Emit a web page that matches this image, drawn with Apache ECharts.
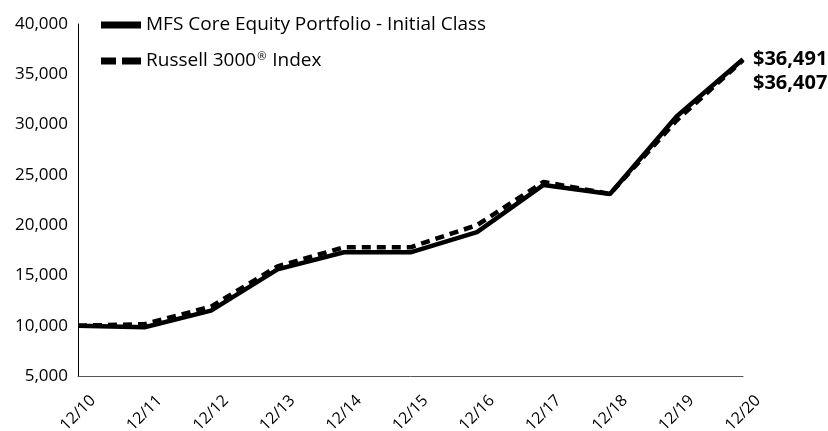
<!DOCTYPE html>
<html>
<head>
<meta charset="utf-8">
<script src="https://cdn.jsdelivr.net/npm/echarts@6/dist/echarts.min.js"></script>
<style>
html,body{margin:0;padding:0;background:#fff;}
#main{width:828px;height:431px;}
</style>
</head>
<body>
<div id="main"></div>
<script>
var years = ['12/10','12/11','12/12','12/13','12/14','12/15','12/16','12/17','12/18','12/19','12/20'];
var mfsValues = [10000, 9850, 11500, 15600, 17300, 17300, 19300, 24000, 23100, 30800, 36491];
var russellValues = [10000, 10150, 11900, 15900, 17800, 17800, 20000, 24300, 23100, 30400, 36407];
var seriesNames = ['MFS Core Equity Portfolio - Initial Class', 'Russell 3000® Index'];

var fontName = 'Open Sans';

function money(v){
    return '$' + v.toLocaleString('en-US');
}

var chart = echarts.init(document.getElementById('main'));
var option = {
    animation: false,
    backgroundColor: '#fff',
    textStyle: {fontFamily: fontName, color: '#000'},
    grid: {left: 78, right: 85, top: 24, bottom: 55, outerBoundsMode: 'none'},
    legend: {
        left: 96,
        top: 10,
        orient: 'vertical',
        itemGap: 16,
        itemWidth: 40,
        itemHeight: 7,
        formatter: function(name){
            return name.replace('®', '{sup|®}');
        },
        textStyle: {
            fontFamily: fontName, fontSize: 19, lineHeight: 20, color: '#000',
            rich: {
                sup: {fontSize: 11, verticalAlign: 'top', lineHeight: 20, padding: [0, 1, 6, 1], fontFamily: fontName, color: '#000'}
            }
        },
        data: [
            {name: seriesNames[0], icon: 'rect'},
            {name: seriesNames[1], icon: 'path://M0,0h15v7h-15z M21,0h19v7h-19z'}
        ]
    },
    xAxis: {
        type: 'category',
        data: years,
        boundaryGap: false,
        axisLine: {show: true, lineStyle: {color: '#555', width: 1}},
        axisTick: {show: false},
        axisLabel: {
            rotate: 45, fontSize: 16, color: '#000', margin: 37, fontFamily: fontName,
            align: 'center', verticalAlign: 'middle'
        }
    },
    yAxis: {
        type: 'value',
        min: 5000,
        max: 40000,
        interval: 5000,
        axisLine: {show: true, lineStyle: {color: '#000', width: 1}},
        axisTick: {show: false},
        splitLine: {show: false},
        axisLabel: {
            fontSize: 17, color: '#000', margin: 10, fontFamily: fontName,
            formatter: function(v){ return v.toLocaleString('en-US'); }
        }
    },
    series: [
        {
            name: seriesNames[1],
            type: 'line',
            data: russellValues,
            symbol: 'none',
            z: 2,
            itemStyle: {color: '#000'},
            lineStyle: {color: '#000', width: 4.5, type: [9, 6]},
            endLabel: {
                show: true,
                formatter: function(p){ return money(p.value); },
                fontSize: 20, fontWeight: 'bold', color: '#000', fontFamily: fontName,
                offset: [2, 23]
            }
        },
        {
            name: seriesNames[0],
            type: 'line',
            data: mfsValues,
            symbol: 'none',
            z: 3,
            itemStyle: {color: '#000'},
            lineStyle: {color: '#000', width: 4.5},
            endLabel: {
                show: true,
                formatter: function(p){ return money(p.value); },
                fontSize: 20, fontWeight: 'bold', color: '#000', fontFamily: fontName,
                offset: [2, 0]
            }
        }
    ]
};
chart.setOption(option);
</script>
</body>
</html>
